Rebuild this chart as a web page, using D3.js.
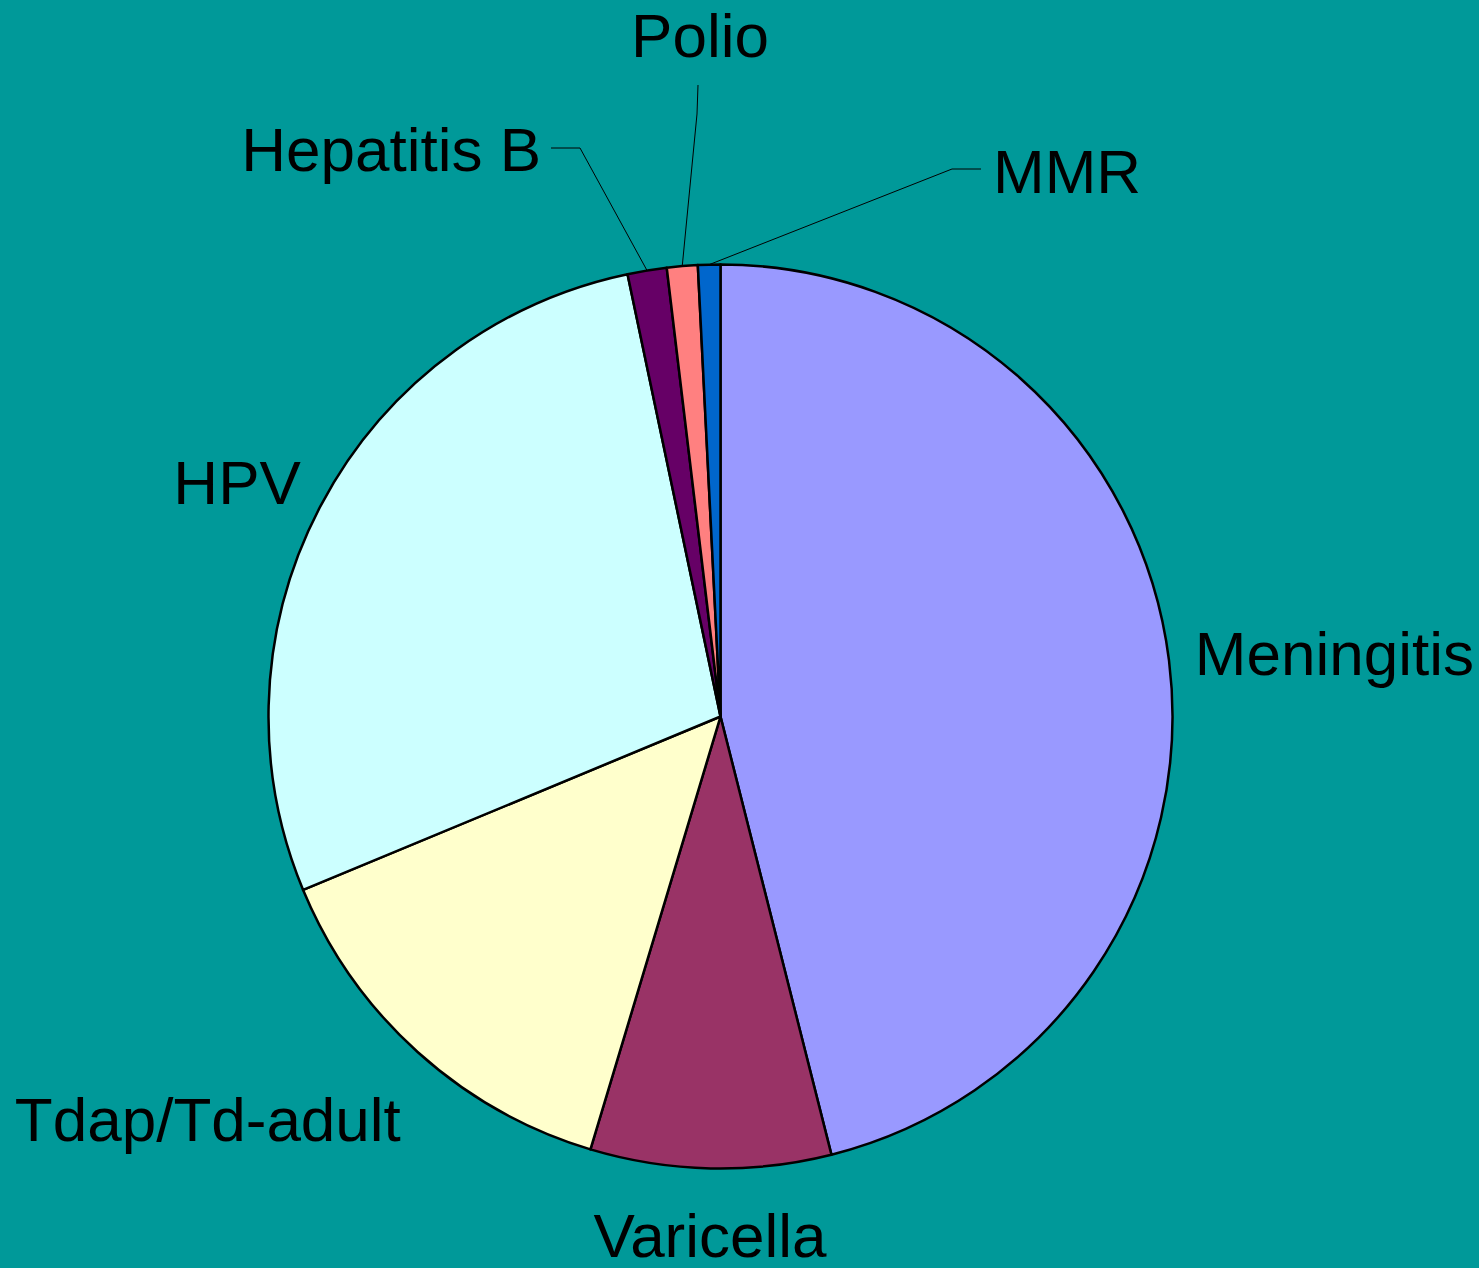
<!DOCTYPE html>
<html>
<head>
<meta charset="utf-8">
<script src="https://cdn.jsdelivr.net/npm/d3@7"></script>
<style>
  html, body { margin: 0; padding: 0; background: #009999; }
  svg { display: block; }
</style>
</head>
<body>
<script>
// data, clockwise from 12 o'clock
var categories = ["Meningitis", "Varicella", "Tdap/Td-adult", "HPV", "Hepatitis B", "Polio", "MMR"];
var shares = [46.1, 8.6, 14.1, 28.0, 1.4, 1.1, 0.8];
var sliceColors = ["#9999FF", "#993366", "#FFFFCC", "#CCFFFF", "#660066", "#FF8080", "#0066CC"];

// layout
var width = 1479;
var height = 1268;
var cx = 720.5;
var cy = 716.5;
var radius = 452;
var fontSize = 62;
var bgColor = "#009999";

// label placement: big slices sit just outside the arc,
// small ones get a leader line to a label placed off the pie
var labelRadius = 480;
var labelStyle = {
  "Meningitis":    { anchor: "start",  dx: -2, dy: -4 },
  "Varicella":     { anchor: "middle", dx: 0,  dy: 39 },
  "Tdap/Td-adult": { anchor: "end",    dx: 2,  dy: 47 },
  "HPV":           { anchor: "end",    dx: 5,  dy: -10 }
};
var leaders = {
  "Hepatitis B": { elbow: [580, 148], end: [551, 148], text: [541, 171], anchor: "end" },
  "Polio":       { elbow: [697, 114], end: [698, 85],  text: [700, 57],  anchor: "middle" },
  "MMR":         { elbow: [952, 169], end: [981, 169], text: [993, 193], anchor: "start" }
};

var svg = d3.select("body")
    .append("svg")
    .attr("width", width)
    .attr("height", height);

svg.append("rect")
    .attr("width", width)
    .attr("height", height)
    .attr("fill", bgColor);

var g = svg.append("g")
    .attr("transform", "translate(" + cx + "," + cy + ")");

var pie = d3.pie().sort(null).value(function(d, i) { return shares[i]; });
var arcs = pie(categories);

var arc = d3.arc().innerRadius(0).outerRadius(radius);

g.selectAll("path.slice")
    .data(arcs)
    .enter()
    .append("path")
    .attr("class", "slice")
    .attr("d", arc)
    .attr("fill", function(d, i) { return sliceColors[i]; })
    .attr("stroke", "#000")
    .attr("stroke-width", 2.5)
    .attr("stroke-linejoin", "round");

function pointAt(angle, r) {
  return [r * Math.sin(angle), -r * Math.cos(angle)];
}

// labels next to big slices, leader lines for the thin ones
arcs.forEach(function(d) {
  var name = d.data;
  var mid = (d.startAngle + d.endAngle) / 2;
  if (labelStyle[name]) {
    var s = labelStyle[name];
    var p = pointAt(mid, labelRadius);
    g.append("text")
        .attr("x", p[0] + s.dx)
        .attr("y", p[1] + s.dy)
        .attr("dy", "0.35em")
        .attr("text-anchor", s.anchor)
        .attr("font-family", "'Liberation Sans', Arial, sans-serif")
        .attr("font-size", fontSize)
        .attr("fill", "#000")
        .text(name);
  } else if (leaders[name]) {
    var L = leaders[name];
    var start = pointAt(mid, radius);
    var pts = [[start[0] + cx, start[1] + cy], L.elbow, L.end];
    svg.append("path")
        .attr("d", d3.line()(pts))
        .attr("fill", "none")
        .attr("stroke", "#000")
        .attr("stroke-width", 1);
    svg.append("text")
        .attr("x", L.text[0])
        .attr("y", L.text[1])
        .attr("text-anchor", L.anchor)
        .attr("font-family", "'Liberation Sans', Arial, sans-serif")
        .attr("font-size", fontSize)
        .attr("fill", "#000")
        .text(name);
  }
});
</script>
</body>
</html>
